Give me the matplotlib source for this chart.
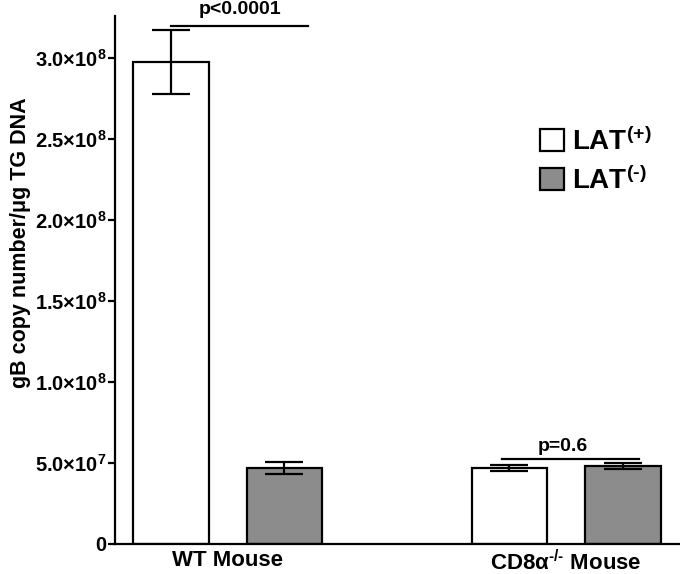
import numpy as np
import matplotlib
matplotlib.use("Agg")
import matplotlib.pyplot as plt
from matplotlib.patches import Patch

plt.rcParams['font.family'] = ['Liberation Sans', 'DejaVu Sans']
plt.rcParams['font.weight'] = 'bold'
plt.rcParams['mathtext.fontset'] = 'custom'
plt.rcParams['mathtext.rm'] = 'Liberation Sans:bold'
plt.rcParams['mathtext.bf'] = 'Liberation Sans:bold'
plt.rcParams['mathtext.it'] = 'Liberation Sans:bold'

# data
groups = ['WT Mouse', 'CD8α$^{\\text{-/-}}$ Mouse']
series = ['LAT$^{(+)}$', 'LAT$^{(\\text{-})}$']
lat_pos = [2.975e8, 4.69e7]
lat_pos_err = [0.20e8, 0.2e7]
lat_neg = [4.69e7, 4.81e7]
lat_neg_err = [0.37e7, 0.18e7]
yticks = [0, 5e7, 1e8, 1.5e8, 2e8, 2.5e8, 3e8]
ytick_labels = ['0', '5.0×10$^{7}$', '1.0×10$^{8}$', '1.5×10$^{8}$',
                '2.0×10$^{8}$', '2.5×10$^{8}$', '3.0×10$^{8}$']
pvals = ['p<0.0001', 'p=0.6']
p_heights = [3.2e8, 5.25e7]

fig = plt.figure(figsize=(6.8, 5.74), dpi=100)
ax = fig.add_axes([0.1691, 0.0523, 0.8309, 0.9199])

x = np.arange(len(groups))
off = 0.1677
w = 0.222
ax.bar(x - off, lat_pos, w, color='white', edgecolor='black', linewidth=1.6, zorder=2)
ax.bar(x + off, lat_neg, w, color='#8c8c8c', edgecolor='black', linewidth=1.6, zorder=2)
ax.errorbar(x - off, lat_pos, yerr=lat_pos_err, fmt='none', ecolor='black',
            elinewidth=1.6, capsize=14, capthick=1.6, zorder=3)
ax.errorbar(x + off, lat_neg, yerr=lat_neg_err, fmt='none', ecolor='black',
            elinewidth=1.6, capsize=14, capthick=1.6, zorder=3)

# significance lines
ax.plot([x[0] - off, x[0] + 0.236], [p_heights[0]] * 2, color='black', lw=1.6, clip_on=False)
ax.text(x[0] + 0.036, 3.30e8, pvals[0], ha='center', va='center',
        fontsize=14, fontweight='bold')
ax.plot([x[1] - 0.19, x[1] + 0.215], [p_heights[1]] * 2, color='black', lw=1.6)
ax.text(x[1] - 0.009, 6.02e7, pvals[1], ha='center', va='center',
        fontsize=14, fontweight='bold')

ax.set_xlim(-0.333, 1.336)
ax.set_ylim(0, 3.259e8)
ax.set_yticks(yticks)
ax.set_yticklabels(ytick_labels, fontsize=14.5, fontweight='bold')
ax.set_xticks(x)
ax.set_xticklabels(groups, fontsize=16, fontweight='bold')
ax.tick_params(axis='x', length=0, pad=4)
ax.tick_params(axis='y', length=5, width=1.6, pad=1)
ax.spines['top'].set_visible(False)
ax.spines['right'].set_visible(False)
ax.spines['left'].set_linewidth(1.6)
ax.spines['bottom'].set_linewidth(1.6)
fig.text(21 / 680, 1 - 243 / 574, 'gB copy number/μg TG DNA', rotation=90,
         ha='center', va='center', fontsize=15.5, fontweight='bold')

handles = [Patch(facecolor='white', edgecolor='black', linewidth=1.6),
           Patch(facecolor='#8c8c8c', edgecolor='black', linewidth=1.6)]
leg = ax.legend(handles, series, loc='upper left', bbox_to_anchor=(0.752, 0.789),
                frameon=False, fontsize=20, handlelength=0.86, handleheight=0.86,
                handletextpad=0.3, labelspacing=0.38, borderaxespad=0, borderpad=0)
for t in leg.get_texts():
    t.set_fontweight('bold')

fig.savefig('out.png', dpi=100)
